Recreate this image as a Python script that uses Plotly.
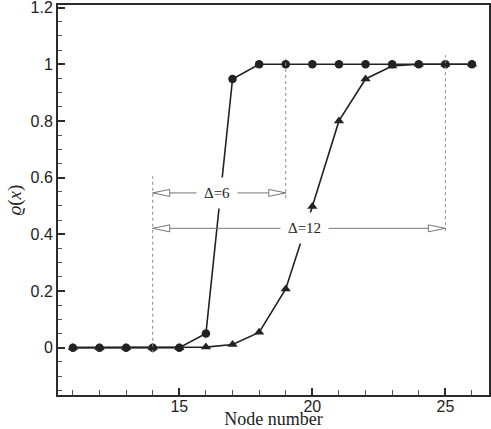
import plotly.graph_objects as go

# data
NODES = list(range(11, 27))
RHO_CIRCLE = [0, 0, 0, 0, 0, 0.05, 0.948, 1, 1, 1, 1, 1, 1, 1, 1, 1]
RHO_TRIANGLE = [0, 0, 0, 0, 0, 0.002, 0.011, 0.054, 0.207, 0.498, 0.80, 0.948, 0.994, 1, 1, 1]

# dashed guide lines: node, bottom, top
GUIDE_NODES = [14, 19, 25]
GUIDE_BOTTOM = [-0.018, 0.528, 0.411]
GUIDE_TOP = [0.605, 1.02, 1.032]

# width annotations
DELTA_LABELS = ["Δ=6", "Δ=12"]
DELTA_START = [14, 14]
DELTA_END = [19, 25]
DELTA_LEVEL = [0.546, 0.421]
DELTA_TEXT_X = [16.43, 19.7]

LINE_COLOR = "#222222"
GUIDE_COLOR = "#8a8a8a"
AXIS_COLOR = "#2b2b2b"

fig = go.Figure()

fig.add_trace(go.Scatter(
    x=NODES, y=RHO_TRIANGLE, mode="lines+markers",
    line=dict(color=LINE_COLOR, width=1.6),
    marker=dict(symbol="triangle-up", size=9, color=LINE_COLOR),
    showlegend=False,
))
fig.add_trace(go.Scatter(
    x=NODES, y=RHO_CIRCLE, mode="lines+markers",
    line=dict(color=LINE_COLOR, width=1.6),
    marker=dict(symbol="circle", size=8.5, color=LINE_COLOR),
    showlegend=False,
))

shapes = []
for gx, y0, y1 in zip(GUIDE_NODES, GUIDE_BOTTOM, GUIDE_TOP):
    shapes.append(dict(type="line", xref="x", yref="y", x0=gx, x1=gx, y0=y0, y1=y1,
                       line=dict(color=GUIDE_COLOR, width=1, dash="dot")))

annotations = []
for label, xs, xe, lvl, tx in zip(DELTA_LABELS, DELTA_START, DELTA_END, DELTA_LEVEL, DELTA_TEXT_X):
    shapes.append(dict(type="line", xref="x", yref="y", x0=xs, x1=xe, y0=lvl, y1=lvl,
                       line=dict(color="#777777", width=1)))
    # open arrow heads, drawn in pixels around each tip
    shapes.append(dict(type="path", xref="x", yref="y", xsizemode="pixel", ysizemode="pixel",
                       xanchor=xs, yanchor=lvl, path="M 0,0 L 17,3.5 L 17,-3.5 Z",
                       fillcolor="white", line=dict(color="#777777", width=1)))
    shapes.append(dict(type="path", xref="x", yref="y", xsizemode="pixel", ysizemode="pixel",
                       xanchor=xe, yanchor=lvl, path="M 0,0 L -17,3.5 L -17,-3.5 Z",
                       fillcolor="white", line=dict(color="#777777", width=1)))
    annotations.append(dict(x=tx, y=lvl, xref="x", yref="y", text=label, showarrow=False,
                            bgcolor="white", borderpad=7,
                            font=dict(family="Liberation Serif", size=15, color="#222222")))

fig.update_layout(
    width=491, height=429,
    margin=dict(l=58, r=2, t=5, b=34),
    plot_bgcolor="white", paper_bgcolor="white",
    shapes=shapes, annotations=annotations,
    font=dict(family="Liberation Sans", size=16, color="#222222"),
    xaxis=dict(
        range=[10.44, 26.64], tick0=0, dtick=5,
        ticks="inside", ticklen=7, tickwidth=2, tickcolor=AXIS_COLOR,
        ticklabelstandoff=-4,
        minor=dict(dtick=1, ticks="inside", ticklen=5, tickwidth=1, tickcolor="#555555"),
        showgrid=False, zeroline=False,
        showline=True, linecolor=AXIS_COLOR, linewidth=2, mirror=True,
        title=dict(text="Node number", standoff=0,
                   font=dict(family="Liberation Serif", size=18, color="#222222")),
        automargin=False,
    ),
    yaxis=dict(
        range=[-0.167, 1.209], tick0=0, dtick=0.2,
        ticks="inside", ticklen=7, tickwidth=2, tickcolor=AXIS_COLOR,
        ticklabeloverflow="allow",
        minor=dict(dtick=0.05, ticks="inside", ticklen=4, tickwidth=1, tickcolor="#555555"),
        showgrid=False, zeroline=False,
        showline=True, linecolor=AXIS_COLOR, linewidth=2, mirror=True,
        title=dict(text="<i>ϱ</i>(<i>x</i>)", standoff=4,
                   font=dict(family="Liberation Serif", size=19, color="#222222")),
        automargin=False,
    ),
)

# the page body has a default 8px margin; drop it so the figure sits at the corner
fig.write_html("out.html", config={"displayModeBar": False},
               post_script="document.body.style.margin='0';")
